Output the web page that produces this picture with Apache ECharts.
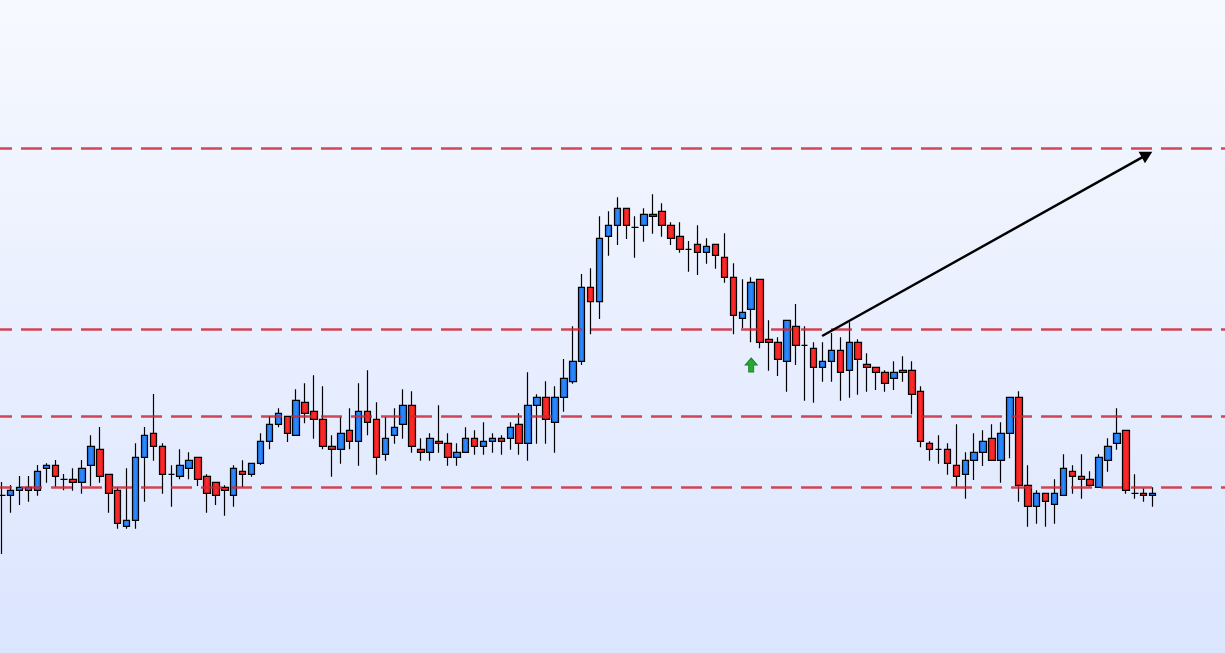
<!DOCTYPE html>
<html><head><meta charset="utf-8">
<style>html,body{margin:0;padding:0;background:#fff}#c{width:1225px;height:653px}</style>
<script src="https://cdn.jsdelivr.net/npm/echarts@6/dist/echarts.min.js"></script>
</head><body><div id="c"></div>
<script>
const opens=[115.77,115.77,116.27,116.27,116.27,118.47,118.77,117.37,117.37,117.07,118.77,120.37,117.87,116.27,112.67,113.27,119.57,121.97,120.67,117.87,117.67,118.47,119.57,117.67,117.07,116.57,115.77,118.17,117.87,118.97,121.17,122.87,123.67,121.77,125.07,124.17,123.37,120.67,120.37,122.27,121.17,124.17,123.37,119.87,121.77,122.87,124.77,120.37,120.07,121.17,120.97,119.57,120.07,121.47,120.67,121.17,121.47,121.47,122.87,120.97,124.77,125.57,123.07,125.57,127.13,129.17,136.57,135.13,141.67,142.77,144.47,142.57,142.77,143.87,144.17,142.77,141.67,140.37,140.87,140.07,140.87,139.57,137.57,133.47,134.37,137.37,131.37,131.07,129.17,132.67,130.77,130.47,128.57,129.17,130.27,128.27,131.07,128.87,128.57,128.07,127.47,128.07,128.27,126.17,120.97,120.37,120.37,118.77,117.87,119.27,120.07,121.47,119.27,121.97,125.57,116.77,114.67,115.97,114.87,115.77,118.17,117.67,117.37,116.57,119.27,120.97,122.27,115.97,115.97,115.77];
const closes=[115.77,116.27,116.57,116.57,118.17,118.77,117.67,117.37,117.07,118.47,120.67,117.67,115.97,112.97,113.27,119.57,121.77,120.67,117.87,117.87,118.77,119.27,117.37,115.97,115.77,116.27,118.47,117.87,118.97,121.17,122.87,123.97,121.97,125.27,123.97,123.37,120.67,120.37,121.97,121.17,124.17,123.07,119.57,121.47,122.57,124.77,120.67,120.07,121.47,120.97,119.57,120.07,121.47,120.67,121.17,121.47,121.17,122.57,120.97,124.77,125.57,123.37,125.57,127.47,129.17,136.57,135.13,141.47,142.77,144.47,142.77,142.57,143.87,143.67,142.77,141.47,140.37,140.37,140.07,140.67,139.77,137.57,133.77,134.07,137.07,131.07,131.07,129.37,133.27,130.77,130.77,128.57,129.17,130.27,128.07,131.07,129.37,128.57,128.07,126.97,128.07,128.27,125.87,121.17,120.37,120.37,118.97,117.67,119.27,120.07,121.17,119.27,121.97,125.57,116.77,114.67,115.97,115.17,115.97,118.47,117.67,117.37,116.77,119.57,120.67,121.97,116.27,115.97,115.77,115.97];
const lows=[109.9,114.03,114.8,115.13,115.73,117.03,116.63,116.27,116.23,115.93,116.7,117.03,114.03,112.43,112.43,112.43,115.13,119.23,115.93,114.63,117.37,117.37,116.7,114.03,114.8,113.73,114.63,116.57,117.63,118.8,120.37,122.57,121.1,121.77,122.97,121.43,120.37,117.63,118.93,120.37,118.73,121.77,117.83,119.23,120.93,121.43,120.03,119.23,119.23,120.03,118.73,118.73,120.07,119.83,119.83,120.03,119.83,120.33,119.83,119.23,120.93,120.93,120.03,124.13,126.93,128.8,131.87,133.4,139.73,140.8,141.4,139.53,141.13,141.93,141.63,140.8,140.03,138.13,137.8,138.93,138.43,137.03,131.87,132.47,131.07,130.47,128.23,127.7,126.13,128.8,125.23,125.03,127.13,127.13,125.23,125.53,125.83,126.13,126.3,126.13,126.3,127.13,123.87,120.57,119.23,118.93,117.83,116.63,115.43,117.3,118.7,119.27,117.03,119.47,115.13,112.63,112.93,112.63,112.93,115.77,115.93,115.43,116.63,116.57,118.13,120.33,115.93,115.43,115.13,114.63];
const highs=[117.1,116.8,117.7,117.7,118.8,118.97,119.3,117.9,118.47,119.3,121.77,122.6,117.87,116.57,118.47,120.97,122.6,125.9,120.97,118.77,120.37,120.07,119.57,117.87,117.07,116.77,118.77,119.27,118.97,121.97,123.7,124.47,123.67,126.37,126.97,127.77,126.67,121.77,123.63,124.47,126.97,128.27,125.07,123.63,124.47,126.37,126.17,121.47,121.97,124.77,121.97,120.97,122.57,122.27,123.07,121.97,121.77,123.07,123.97,128.07,125.87,127.17,126.67,129.4,132.67,137.9,138.47,143.67,144.17,145.57,144.47,143.67,144.47,145.87,144.97,143.07,143.07,141.2,142.77,141.47,140.87,141.97,138.97,137.37,137.57,137.37,133.27,131.57,133.27,134.9,132.67,131.07,131.07,132,131.57,133.07,131.37,129.97,128.57,128.27,129.17,129.67,129.17,126.67,121.17,121.77,120.97,122.87,120.07,121.97,122.27,122.87,123.07,125.57,126.17,118.77,116.27,115.97,117.37,119.87,118.77,119.87,118.17,119.87,121.47,124.47,122.27,117.87,116.47,116.57];
const levels=[150.5,132.4,123.7,116.6];
const axisSlots=138;
const categories=Array.from({length:axisSlots},(_,i)=>String(i));
const arrowFrom=[91.95,131.7];
const arrowTo=[128.37,149.84];
const buyMark=[84,128.8];

const chart=echarts.init(document.getElementById('c'),null,{renderer:'canvas'});
const grad=(a,b)=>({type:'linear',x:0,y:0,x2:1,y2:0,colorStops:[{offset:0,color:a},{offset:.5,color:b},{offset:1,color:a}]});
chart.setOption({
  animation:false,
  backgroundColor:{type:'linear',x:0,y:0,x2:0,y2:1,colorStops:[{offset:0,color:'#f7f9ff'},{offset:1,color:'#dbe5fe'}]},
  grid:{left:-2.7,top:0,width:1231.2,height:653,outerBoundsMode:'none'},
  xAxis:[{type:'category',data:categories,show:false,boundaryGap:true},
         {type:'value',min:-0.5,max:axisSlots-0.5,show:false,splitLine:{show:false}}],
  yAxis:{type:'value',min:100,max:165.3,show:false,splitLine:{show:false}},
  series:[
    {type:'candlestick',z:2,barWidth:7,clip:false,
     itemStyle:{color:grad('#1666dc','#2e8cff'),color0:grad('#dc1616','#ff2c2c'),borderColor:'#000',borderColor0:'#000',borderColorDoji:'#000',borderWidth:1.2},
     data:opens.map((o,i)=>[o,closes[i],lows[i],highs[i]]),
     markPoint:{silent:true,label:{show:false},animation:false,
       symbol:'path://M6,0 L12,7 L8.5,7 L8.5,14 L3.5,14 L3.5,7 L0,7 Z',symbolSize:[12,14],
       itemStyle:{color:'#2aa835',borderColor:'#1a8426',borderWidth:1},
       data:[{coord:buyMark}]}},
    {type:'line',data:[],z:6,silent:true,
     markLine:{silent:true,symbol:'none',label:{show:false},animation:false,
       lineStyle:{color:'rgba(205,40,55,0.85)',width:2.5,type:[21,9],dashOffset:6.3,opacity:1},
       data:levels.map(v=>({yAxis:v-0.03}))}},
    {type:'line',xAxisIndex:1,data:[],z:7,silent:true,
     markLine:{silent:true,symbol:['none','triangle'],symbolSize:[13,12],label:{show:false},animation:false,
       lineStyle:{color:'#000',width:2.4,type:'solid',opacity:1},
       data:[[{coord:arrowFrom},{coord:arrowTo}]]}}
  ]
});
</script></body></html>
